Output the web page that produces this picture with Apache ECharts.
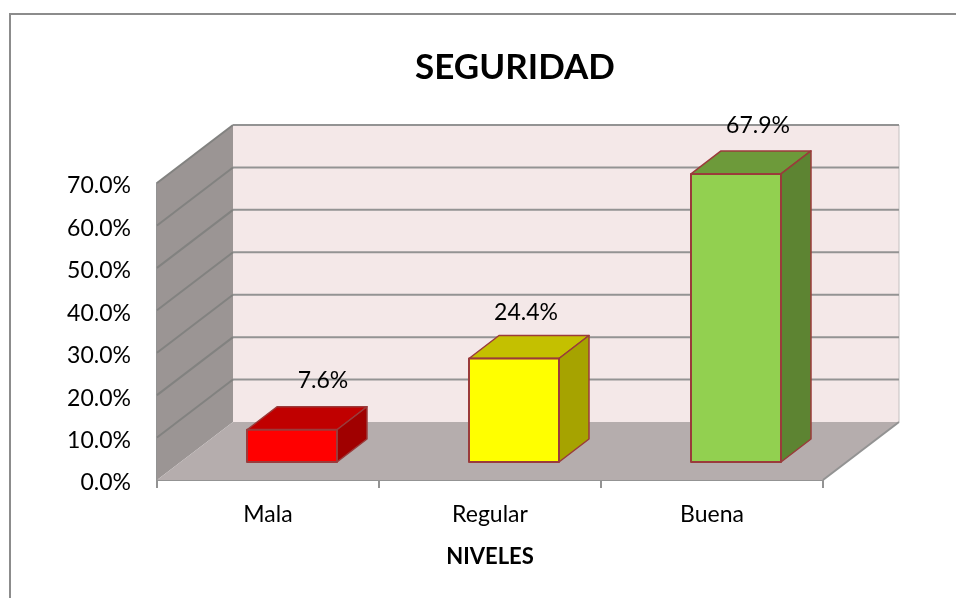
<!DOCTYPE html>
<html>
<head>
<meta charset="utf-8">
<style>
    html, body { margin: 0; padding: 0; background: #ffffff; }
    #chart { width: 956px; height: 598px; }
</style>
</head>
<body>
<div id="chart"></div>
<script src="https://cdn.jsdelivr.net/npm/echarts@6/dist/echarts.min.js"></script>
<script>
const categories = ['Mala', 'Regular', 'Buena'];
const values = [7.6, 24.4, 67.9];
const yTicks = [0, 10, 20, 30, 40, 50, 60, 70];

const faceColors = ['#ff0000', '#ffff00', '#92d050'];
const topColors = ['#c00000', '#c4c000', '#6d9a3a'];
const sideColors = ['#a00000', '#a6a300', '#5d8432'];
const labelShift = [31, 12, 22];
const labelRise = [15, 11, 14];

// depth of the fake 3d box
const wallDx = 76, wallDy = -58;
const floorDx = 24, floorDy = -18;
const barDx = 30, barDy = -23;
const barWidth = 90;
const textFont = 'Lato, sans-serif';
const gridColor = '#939393';
const sideGridColor = '#828280';
const barEdge = '#9a3b3b';

const poly = (points, fill, stroke, lineWidth) => ({
    type: 'polygon',
    shape: { points: points },
    style: { fill: fill, stroke: stroke || null, lineWidth: lineWidth || 0, lineJoin: 'round' }
});
const line = (a, b, color, width) => ({
    type: 'line',
    shape: { x1: a[0], y1: a[1], x2: b[0], y2: b[1] },
    style: { stroke: color, lineWidth: width }
});

const renderWalls = (params, api) => {
    const band = api.size([1, 0])[0];
    const left = api.coord([0, 0])[0] - band / 2;
    const right = api.coord([categories.length - 1, 0])[0] + band / 2;
    const y0 = api.coord([0, 0])[1];
    const yMax = api.coord([0, yTicks[yTicks.length - 1]])[1];
    return {
        type: 'group',
        children: [
            poly([[left + wallDx, yMax + wallDy], [right + wallDx, yMax + wallDy], [right + wallDx, y0 + wallDy], [left + wallDx, y0 + wallDy]], '#f4e8e8'),
            poly([[left, yMax], [left + wallDx, yMax + wallDy], [left + wallDx, y0 + wallDy], [left, y0]], '#9b9594'),
            poly([[left, y0], [left + wallDx, y0 + wallDy], [right + wallDx, y0 + wallDy], [right, y0]], '#b5adad'),
            line([right + wallDx, yMax + wallDy], [right + wallDx, y0 + wallDy], '#c4c0c0', 1),
            line([right, y0], [right + wallDx, y0 + wallDy], gridColor, 2)
        ]
    };
};

const renderGrid = (params, api) => {
    const band = api.size([1, 0])[0];
    const left = api.coord([0, 0])[0] - band / 2;
    const right = api.coord([categories.length - 1, 0])[0] + band / 2;
    const y = api.coord([0, api.value(0)])[1];
    return {
        type: 'group',
        children: [
            line([left, y], [left + wallDx, y + wallDy], sideGridColor, 2),
            line([left + wallDx, y + wallDy], [right + wallDx, y + wallDy], gridColor, 2)
        ]
    };
};

const renderBar = (params, api) => {
    const i = api.value(0);
    const v = api.value(1);
    const cx = api.coord([i, 0])[0] + floorDx;
    const yb = api.coord([i, 0])[1] + floorDy;
    const yt = yb - (api.coord([i, 0])[1] - api.coord([i, v])[1]);
    const xl = cx - barWidth / 2;
    const xr = cx + barWidth / 2;
    return {
        type: 'group',
        children: [
            poly([[xl, yt], [xl + barDx, yt + barDy], [xr + barDx, yt + barDy], [xr, yt]], topColors[i], barEdge, 1.5),
            poly([[xr, yt], [xr + barDx, yt + barDy], [xr + barDx, yb + barDy], [xr, yb]], sideColors[i], barEdge, 1.5),
            poly([[xl, yt], [xr, yt], [xr, yb], [xl, yb]], faceColors[i], barEdge, 2),
            {
                type: 'text',
                style: {
                    text: v.toFixed(1) + '%',
                    x: cx + labelShift[i],
                    y: yt + barDy - labelRise[i],
                    align: 'center',
                    verticalAlign: 'bottom',
                    font: '23px ' + textFont,
                    fill: '#000000'
                }
            }
        ]
    };
};

const chart = echarts.init(document.getElementById('chart'), null, { renderer: 'canvas' });
chart.setOption({
    animation: false,
    backgroundColor: '#ffffff',
    title: {
        text: 'SEGURIDAD',
        left: 510,
        top: 45,
        textAlign: 'center',
        textStyle: { fontFamily: textFont, fontSize: 35, fontWeight: 'bold', color: '#000000' }
    },
    graphic: [{
        type: 'polyline',
        shape: { points: [[10, 598], [10, 14], [956, 14]] },
        style: { stroke: '#8c8c8c', lineWidth: 2, fill: null }
    }],
    grid: { left: 157, right: 133, top: 183, bottom: 118 },
    xAxis: {
        type: 'category',
        data: categories,
        name: 'NIVELES',
        nameLocation: 'middle',
        nameGap: 66,
        nameTextStyle: { fontFamily: textFont, fontSize: 22, fontWeight: 'bold', color: '#000000' },
        axisLine: { lineStyle: { color: gridColor, width: 2 } },
        axisTick: { show: true, length: 8, alignWithLabel: false, lineStyle: { color: gridColor, width: 2 } },
        axisLabel: { fontFamily: textFont, fontSize: 23, color: '#000000', margin: 23 }
    },
    yAxis: {
        type: 'value',
        min: 0,
        max: 70,
        interval: 10,
        axisLine: { show: true, lineStyle: { color: gridColor, width: 2 } },
        axisTick: { show: false },
        splitLine: { show: false },
        axisLabel: { fontFamily: textFont, fontSize: 23, color: '#000000', margin: 26, verticalAlign: 'top', lineHeight: 6, formatter: (v) => v.toFixed(1) + '%' }
    },
    series: [
        { type: 'custom', data: [[0, 0]], renderItem: renderWalls, clip: false, silent: true, z: 1 },
        { type: 'custom', data: yTicks.slice(1).map((v) => [v]), encode: { y: 0 }, renderItem: renderGrid, clip: false, silent: true, z: 2 },
        { type: 'custom', data: values.map((v, i) => [i, v]), encode: { x: 0, y: 1 }, renderItem: renderBar, clip: false, z: 3 }
    ]
});
</script>
</body>
</html>
